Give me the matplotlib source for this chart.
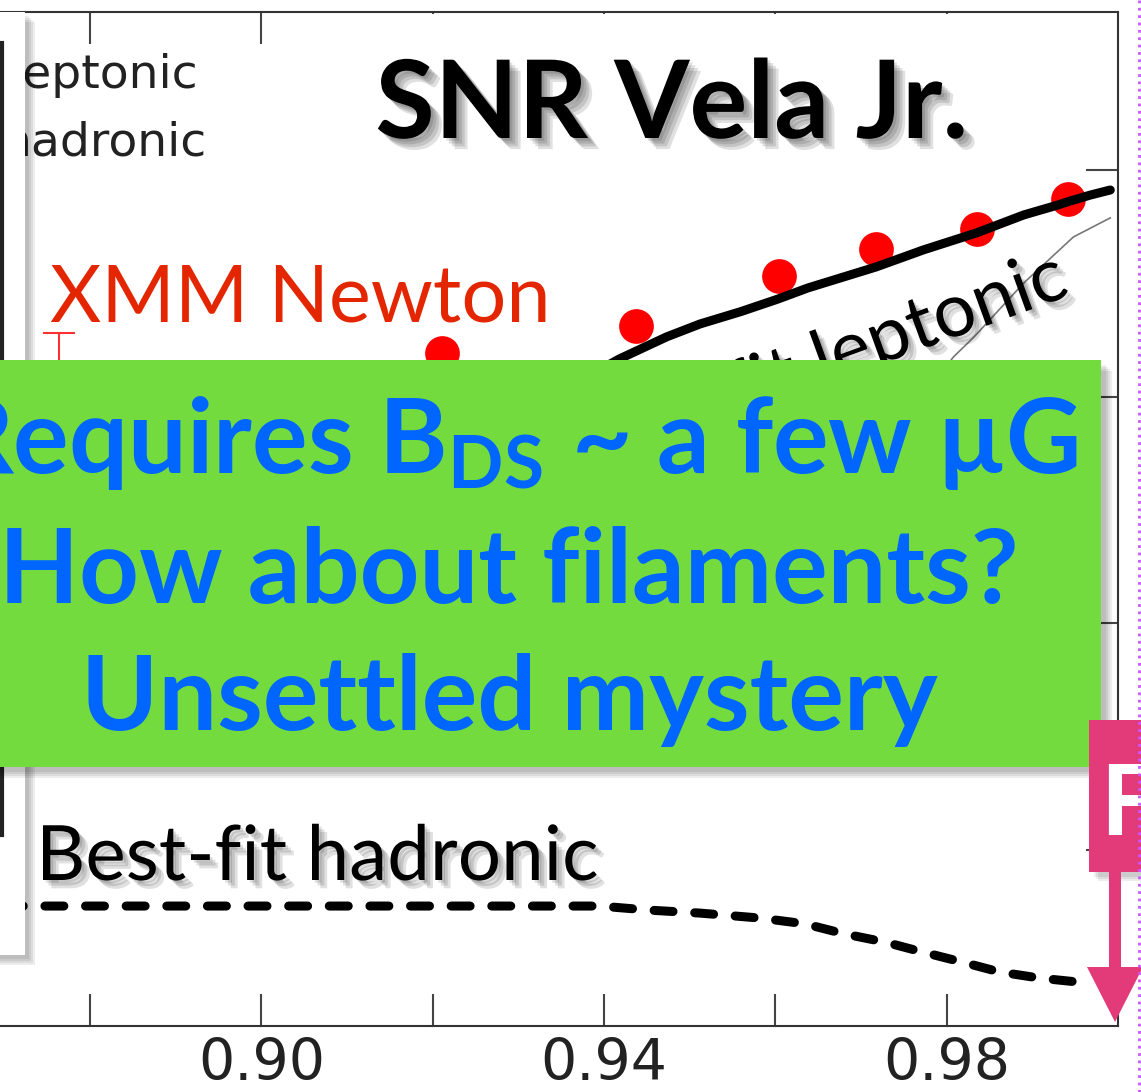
import numpy as np
import matplotlib.pyplot as plt
from matplotlib.patches import Rectangle, FancyArrow
import matplotlib.patheffects as pe

W, H = 1141, 1092

# XMM-Newton points (first one only shows its error bar above the green box)
xmm_x = [0.8764, 0.9211, 0.9437, 0.9604, 0.9718, 0.9835, 0.9942]
xmm_y = [1.99, 2.19, 2.31, 2.53, 2.65, 2.74, 2.87]
xmm_err_x = [0.8764]
xmm_err_y = [1.99]
xmm_err = [0.29]

# best-fit leptonic (thick solid)
lep_x = [0.9255, 0.9348, 0.9418, 0.9473, 0.9512, 0.9560, 0.9603, 0.9638, 0.9718,
         0.9773, 0.9835, 0.9890, 0.9930, 0.9942, 0.9968, 0.9991]
lep_y = [1.809, 2.020, 2.166, 2.263, 2.320, 2.375, 2.430, 2.479, 2.572,
         2.647, 2.722, 2.801, 2.845, 2.860, 2.889, 2.911]

# thin grey curve
thin_x = [0.9769, 0.9808, 0.9832, 0.9890, 0.9948, 0.9991]
thin_y = [1.985, 2.175, 2.263, 2.501, 2.704, 2.788]

# best-fit hadronic (dashed)
had_x = [0.8700, 0.9162, 0.9395, 0.9453, 0.9512, 0.9582, 0.9634, 0.9681,
         0.9728, 0.9772, 0.9818, 0.9862, 0.9909, 0.9953]
had_y = [-0.247, -0.247, -0.247, -0.265, -0.278, -0.300, -0.325, -0.370,
         -0.406, -0.450, -0.494, -0.538, -0.565, -0.582]

major_ticks = [0.90, 0.94, 0.98]
minor_ticks = [0.88, 0.92, 0.96]
y_ticks = [0, 1, 2, 3]

fig = plt.figure(figsize=(W / 100, H / 100), dpi=100)
fig.patch.set_facecolor('white')

ax = fig.add_axes([0, (H - 1026) / H, 1118 / W, (1026 - 12) / H])
ax.set_xlim(0.8695, 1.0)
ax.set_ylim(-0.776, 3.696)

ax.errorbar(xmm_err_x, xmm_err_y, yerr=xmm_err, fmt='none', ecolor='#ff3030',
            elinewidth=1.5, capsize=11.5, capthick=1.5)
ax.plot(xmm_x, xmm_y, 'o', color='#ff0000', ms=25, mec='none', zorder=3)
ax.plot(thin_x, thin_y, color='#777777', lw=1.2, zorder=2)
ax.plot(lep_x, lep_y, color='black', lw=6.5, solid_capstyle='round',
        solid_joinstyle='round', zorder=4)
ax.plot(had_x, had_y, color='black', lw=6.5, dashes=(2.1, 2.4),
        dash_capstyle='round', dash_joinstyle='round', zorder=4)

for s in ['top', 'bottom', 'right']:
    ax.spines[s].set_color('#333333')
    ax.spines[s].set_linewidth(1.5)
ax.spines['left'].set_visible(False)

ax.set_xticks(major_ticks)
ax.set_xticks(minor_ticks, minor=True)
ax.set_xticklabels(['%.2f' % t for t in major_ticks])
ax.set_yticks(y_ticks)
ax.tick_params(axis='x', which='both', direction='in', length=23, width=1.5,
               color='#444444', top=True, labelsize=41, labelcolor='#222222', pad=8)
ax.tick_params(axis='y', which='both', direction='in', length=23, width=1.5,
               color='#444444', left=False, right=True, labelleft=False)
for lab in ax.get_xticklabels():
    lab.set_fontfamily('DejaVu Sans')

# slide layer on top, in pixel coordinates
ov = fig.add_axes([0, 0, 1, 1])
ov.set_xlim(0, W)
ov.set_ylim(H, 0)
ov.axis('off')
ov.patch.set_alpha(0)

def shadow_box(x, y, w, h, color, z, off=6, steps=4):
    for i in range(steps):
        d = off + i * 2
        ov.add_patch(Rectangle((x + d, y + d), w, h, color='black', alpha=0.07,
                               lw=0, zorder=z - 0.1))
    ov.add_patch(Rectangle((x, y), w, h, color=color, lw=0, zorder=z))

def txt_shadow(n=3, a=0.12):
    return [pe.SimplePatchShadow(offset=(2 + 2 * i, -2 - 2 * i),
                                 shadow_rgbFace='black', alpha=a) for i in range(n)] + [pe.Normal()]

# white title box hides the upper ticks
ov.add_patch(Rectangle((300, 14), 760, 136, color='white', lw=0, zorder=1))

# legend, mostly hidden behind another box
ov.text(10, 88, 'leptonic', fontsize=34, color='#222222', family='DejaVu Sans', zorder=2)
ov.text(2, 155, 'hadronic', fontsize=34, color='#222222', family='DejaVu Sans', zorder=2)
shadow_box(-20, 12, 45, 943, 'white', 3, off=4, steps=4)
ov.plot([2, 2], [43, 835], color='#222222', lw=3, zorder=3.5)

ov.text(672, 138, 'SNR Vela Jr.', fontsize=78, fontweight='bold', family='Lato',
        ha='center', color='black', zorder=4, path_effects=txt_shadow(4, 0.12))
ov.text(50, 322, 'XMM Newton', fontsize=57, family='Lato', color='#e42600', zorder=4)
ov.text(36, 880, 'Best-fit hadronic', fontsize=55, family='Lato', color='black',
        zorder=4, path_effects=txt_shadow(3, 0.12))
ov.text(1071, 295, 'Best-fit leptonic', fontsize=54, family='Lato', color='black',
        rotation=20, rotation_mode='anchor', ha='right', va='baseline',
        zorder=4, path_effects=txt_shadow(3, 0.12))

# green box with the message
shadow_box(-10, 360, 1111, 407, '#74db3f', 5, off=5, steps=4)
plt.rcParams['mathtext.fontset'] = 'custom'
plt.rcParams['mathtext.rm'] = 'Lato:bold'
plt.rcParams['mathtext.bf'] = 'Lato:bold'
ov.text(1078, 473, 'Requires B$\\mathrm{_{DS}}$ ~ a few \u00b5G', fontsize=75,
        fontweight='bold', family='Lato', color='#0066ff', ha='right', va='baseline', zorder=6)
for s, yb in zip(['How about filaments?', 'Unsettled mystery'], [603, 730]):
    ov.text(509, yb, s, fontsize=75, fontweight='bold', family='Lato', color='#0066ff',
            ha='center', va='baseline', zorder=6)

# pink box + arrow
shadow_box(1089, 720, 70, 152, '#e33a7a', 7, off=5, steps=3)
ov.text(1100, 835, 'F', fontsize=70, fontweight='bold', family='Lato', color='white', zorder=8)
ov.add_patch(FancyArrow(1115, 872, 0, 150, width=12, head_width=56, head_length=55,
                        length_includes_head=True, color='#e33a7a', lw=0, zorder=8))

ov.plot([1139, 1139], [0, H], color='#cc55ff', lw=2, ls=':', zorder=9)

fig.savefig('out.png', dpi=100)
